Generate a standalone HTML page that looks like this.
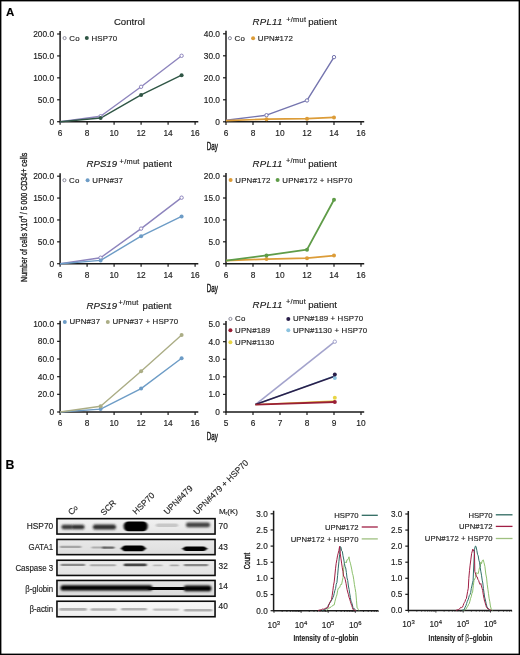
<!DOCTYPE html><html><head><meta charset="utf-8"><style>html,body{margin:0;padding:0;background:#fff;}svg{display:block;filter:blur(0.3px);}text{font-family:"Liberation Sans", sans-serif;stroke:#222;stroke-width:0.15px;}</style></head><body>
<svg width="520" height="655" viewBox="0 0 520 655">
<rect x="0" y="0" width="520" height="655" fill="#fff"/>
<text x="6" y="16" font-size="11.5" font-weight="bold" fill="#000">A</text>
<text x="5.6" y="469" font-size="12.3" font-weight="bold" fill="#000">B</text>
<path d="M60.1 31 V121.7 H198.3" fill="none" stroke="#1a1a1a" stroke-width="1.5"/>
<path d="M57.1 121.7 H60.1" stroke="#1a1a1a" stroke-width="1.2"/>
<text x="54.1" y="124.7" font-size="8.35" text-anchor="end" fill="#222" >0</text>
<path d="M57.1 99.78 H60.1" stroke="#1a1a1a" stroke-width="1.2"/>
<text x="54.1" y="102.78" font-size="8.35" text-anchor="end" fill="#222" >50.0</text>
<path d="M57.1 77.85 H60.1" stroke="#1a1a1a" stroke-width="1.2"/>
<text x="54.1" y="80.85" font-size="8.35" text-anchor="end" fill="#222" >100.0</text>
<path d="M57.1 55.92 H60.1" stroke="#1a1a1a" stroke-width="1.2"/>
<text x="54.1" y="58.92" font-size="8.35" text-anchor="end" fill="#222" >150.0</text>
<path d="M57.1 34 H60.1" stroke="#1a1a1a" stroke-width="1.2"/>
<text x="54.1" y="37" font-size="8.35" text-anchor="end" fill="#222" >200.0</text>
<path d="M60.1 121.7 V124.8" stroke="#1a1a1a" stroke-width="1.2"/>
<text x="60.1" y="135.6" font-size="8.35" text-anchor="middle" fill="#222" >6</text>
<path d="M87.1 121.7 V124.8" stroke="#1a1a1a" stroke-width="1.2"/>
<text x="87.1" y="135.6" font-size="8.35" text-anchor="middle" fill="#222" >8</text>
<path d="M114.1 121.7 V124.8" stroke="#1a1a1a" stroke-width="1.2"/>
<text x="114.1" y="135.6" font-size="8.35" text-anchor="middle" fill="#222" >10</text>
<path d="M141.1 121.7 V124.8" stroke="#1a1a1a" stroke-width="1.2"/>
<text x="141.1" y="135.6" font-size="8.35" text-anchor="middle" fill="#222" >12</text>
<path d="M168.1 121.7 V124.8" stroke="#1a1a1a" stroke-width="1.2"/>
<text x="168.1" y="135.6" font-size="8.35" text-anchor="middle" fill="#222" >14</text>
<path d="M195.1 121.7 V124.8" stroke="#1a1a1a" stroke-width="1.2"/>
<text x="195.1" y="135.6" font-size="8.35" text-anchor="middle" fill="#222" >16</text>
<text x="129.4" y="25" font-size="9.6" text-anchor="middle" fill="#1a1a1a" style="stroke-width:0.15px">Control</text>
<polyline points="60.1,121.7 100.6,116.22 141.1,86.8 181.6,55.79" fill="none" stroke="#8d84bd" stroke-width="1.4" stroke-linejoin="round"/>
<polyline points="60.1,121.7 100.6,118.02 141.1,94.91 181.6,75.22" fill="none" stroke="#2f5645" stroke-width="1.4" stroke-linejoin="round"/>
<circle cx="100.6" cy="116.22" r="1.7" fill="#fff" stroke="#8d84bd" stroke-width="1"/>
<circle cx="141.1" cy="86.8" r="1.7" fill="#fff" stroke="#8d84bd" stroke-width="1"/>
<circle cx="181.6" cy="55.79" r="1.7" fill="#fff" stroke="#8d84bd" stroke-width="1"/>
<circle cx="100.6" cy="118.02" r="2.0" fill="#2f5645"/>
<circle cx="141.1" cy="94.91" r="2.0" fill="#2f5645"/>
<circle cx="181.6" cy="75.22" r="2.0" fill="#2f5645"/>
<circle cx="64.6" cy="38.1" r="1.55" fill="#fff" stroke="#8a8a9a" stroke-width="1"/>
<text x="69.3" y="40.6" font-size="7.9" text-anchor="start" fill="#222" letter-spacing="0.14">Co</text>
<circle cx="86.8" cy="38.1" r="2.0" fill="#2f5645"/>
<text x="91.5" y="40.6" font-size="7.9" text-anchor="start" fill="#222" letter-spacing="0.14">HSP70</text>
<path d="M226 30.8 V121.8 H364.2" fill="none" stroke="#1a1a1a" stroke-width="1.5"/>
<path d="M223 121.8 H226" stroke="#1a1a1a" stroke-width="1.2"/>
<text x="220" y="124.8" font-size="8.35" text-anchor="end" fill="#222" >0</text>
<path d="M223 99.8 H226" stroke="#1a1a1a" stroke-width="1.2"/>
<text x="220" y="102.8" font-size="8.35" text-anchor="end" fill="#222" >10.0</text>
<path d="M223 77.8 H226" stroke="#1a1a1a" stroke-width="1.2"/>
<text x="220" y="80.8" font-size="8.35" text-anchor="end" fill="#222" >20.0</text>
<path d="M223 55.8 H226" stroke="#1a1a1a" stroke-width="1.2"/>
<text x="220" y="58.8" font-size="8.35" text-anchor="end" fill="#222" >30.0</text>
<path d="M223 33.8 H226" stroke="#1a1a1a" stroke-width="1.2"/>
<text x="220" y="36.8" font-size="8.35" text-anchor="end" fill="#222" >40.0</text>
<path d="M226 121.8 V124.9" stroke="#1a1a1a" stroke-width="1.2"/>
<text x="226" y="135.7" font-size="8.35" text-anchor="middle" fill="#222" >6</text>
<path d="M253 121.8 V124.9" stroke="#1a1a1a" stroke-width="1.2"/>
<text x="253" y="135.7" font-size="8.35" text-anchor="middle" fill="#222" >8</text>
<path d="M280 121.8 V124.9" stroke="#1a1a1a" stroke-width="1.2"/>
<text x="280" y="135.7" font-size="8.35" text-anchor="middle" fill="#222" >10</text>
<path d="M307 121.8 V124.9" stroke="#1a1a1a" stroke-width="1.2"/>
<text x="307" y="135.7" font-size="8.35" text-anchor="middle" fill="#222" >12</text>
<path d="M334 121.8 V124.9" stroke="#1a1a1a" stroke-width="1.2"/>
<text x="334" y="135.7" font-size="8.35" text-anchor="middle" fill="#222" >14</text>
<path d="M361 121.8 V124.9" stroke="#1a1a1a" stroke-width="1.2"/>
<text x="361" y="135.7" font-size="8.35" text-anchor="middle" fill="#222" >16</text>
<text x="252.6" y="25.2" font-size="9.6" font-style="italic" fill="#1a1a1a" style="stroke-width:0.15px" letter-spacing="0.25">RPL11</text>
<text x="286.2" y="21.9" font-size="7.4" fill="#1a1a1a" letter-spacing="0.28">+/mut</text>
<text x="308.2" y="25.2" font-size="9.6" fill="#1a1a1a" style="stroke-width:0.15px">patient</text>
<polyline points="226,120.26 266.5,115.2 307,100.46 334,57.12" fill="none" stroke="#7474ae" stroke-width="1.4" stroke-linejoin="round"/>
<polyline points="226,120.7 266.5,119.16 307,118.72 334,117.4" fill="none" stroke="#dc9c38" stroke-width="1.7" stroke-linejoin="round"/>
<circle cx="266.5" cy="115.2" r="1.7" fill="#fff" stroke="#7474ae" stroke-width="1"/>
<circle cx="307" cy="100.46" r="1.7" fill="#fff" stroke="#7474ae" stroke-width="1"/>
<circle cx="334" cy="57.12" r="1.7" fill="#fff" stroke="#7474ae" stroke-width="1"/>
<circle cx="266.5" cy="119.16" r="2.0" fill="#dc9c38"/>
<circle cx="307" cy="118.72" r="2.0" fill="#dc9c38"/>
<circle cx="334" cy="117.4" r="2.0" fill="#dc9c38"/>
<circle cx="229.9" cy="38.2" r="1.55" fill="#fff" stroke="#8a8a9a" stroke-width="1"/>
<text x="234.6" y="40.7" font-size="7.9" text-anchor="start" fill="#222" letter-spacing="0.14">Co</text>
<circle cx="253.1" cy="38.2" r="2.0" fill="#dc9c38"/>
<text x="257.8" y="40.7" font-size="7.9" text-anchor="start" fill="#222" letter-spacing="0.14">UPN#172</text>
<path d="M60.1 173.2 V263.7 H198.3" fill="none" stroke="#1a1a1a" stroke-width="1.5"/>
<path d="M57.1 263.7 H60.1" stroke="#1a1a1a" stroke-width="1.2"/>
<text x="54.1" y="266.7" font-size="8.35" text-anchor="end" fill="#222" >0</text>
<path d="M57.1 241.82 H60.1" stroke="#1a1a1a" stroke-width="1.2"/>
<text x="54.1" y="244.82" font-size="8.35" text-anchor="end" fill="#222" >50.0</text>
<path d="M57.1 219.95 H60.1" stroke="#1a1a1a" stroke-width="1.2"/>
<text x="54.1" y="222.95" font-size="8.35" text-anchor="end" fill="#222" >100.0</text>
<path d="M57.1 198.07 H60.1" stroke="#1a1a1a" stroke-width="1.2"/>
<text x="54.1" y="201.07" font-size="8.35" text-anchor="end" fill="#222" >150.0</text>
<path d="M57.1 176.2 H60.1" stroke="#1a1a1a" stroke-width="1.2"/>
<text x="54.1" y="179.2" font-size="8.35" text-anchor="end" fill="#222" >200.0</text>
<path d="M60.1 263.7 V266.8" stroke="#1a1a1a" stroke-width="1.2"/>
<text x="60.1" y="277.6" font-size="8.35" text-anchor="middle" fill="#222" >6</text>
<path d="M87.1 263.7 V266.8" stroke="#1a1a1a" stroke-width="1.2"/>
<text x="87.1" y="277.6" font-size="8.35" text-anchor="middle" fill="#222" >8</text>
<path d="M114.1 263.7 V266.8" stroke="#1a1a1a" stroke-width="1.2"/>
<text x="114.1" y="277.6" font-size="8.35" text-anchor="middle" fill="#222" >10</text>
<path d="M141.1 263.7 V266.8" stroke="#1a1a1a" stroke-width="1.2"/>
<text x="141.1" y="277.6" font-size="8.35" text-anchor="middle" fill="#222" >12</text>
<path d="M168.1 263.7 V266.8" stroke="#1a1a1a" stroke-width="1.2"/>
<text x="168.1" y="277.6" font-size="8.35" text-anchor="middle" fill="#222" >14</text>
<path d="M195.1 263.7 V266.8" stroke="#1a1a1a" stroke-width="1.2"/>
<text x="195.1" y="277.6" font-size="8.35" text-anchor="middle" fill="#222" >16</text>
<text x="86.6" y="167.3" font-size="9.6" font-style="italic" fill="#1a1a1a" style="stroke-width:0.15px" letter-spacing="0">RPS19</text>
<text x="119.6" y="164" font-size="7.4" fill="#1a1a1a" letter-spacing="0.28">+/mut</text>
<text x="143" y="167.3" font-size="9.6" fill="#1a1a1a" style="stroke-width:0.15px">patient</text>
<polyline points="60.1,263.7 100.6,257.71 141.1,228.61 181.6,197.68" fill="none" stroke="#8d84bd" stroke-width="1.4" stroke-linejoin="round"/>
<polyline points="60.1,263.7 100.6,260.42 141.1,236.18 181.6,216.49" fill="none" stroke="#6d9cc6" stroke-width="1.4" stroke-linejoin="round"/>
<circle cx="100.6" cy="257.71" r="1.7" fill="#fff" stroke="#8d84bd" stroke-width="1"/>
<circle cx="141.1" cy="228.61" r="1.7" fill="#fff" stroke="#8d84bd" stroke-width="1"/>
<circle cx="181.6" cy="197.68" r="1.7" fill="#fff" stroke="#8d84bd" stroke-width="1"/>
<circle cx="100.6" cy="260.42" r="2.0" fill="#6d9cc6"/>
<circle cx="141.1" cy="236.18" r="2.0" fill="#6d9cc6"/>
<circle cx="181.6" cy="216.49" r="2.0" fill="#6d9cc6"/>
<circle cx="64.4" cy="180.2" r="1.55" fill="#fff" stroke="#8a8a9a" stroke-width="1"/>
<text x="69.1" y="182.7" font-size="7.9" text-anchor="start" fill="#222" letter-spacing="0.14">Co</text>
<circle cx="87.6" cy="180.2" r="2.0" fill="#6d9cc6"/>
<text x="92.3" y="182.7" font-size="7.9" text-anchor="start" fill="#222" letter-spacing="0.14">UPN#37</text>
<path d="M226 173.1 V263.7 H364.2" fill="none" stroke="#1a1a1a" stroke-width="1.5"/>
<path d="M223 263.7 H226" stroke="#1a1a1a" stroke-width="1.2"/>
<text x="220" y="266.7" font-size="8.35" text-anchor="end" fill="#222" >0</text>
<path d="M223 241.8 H226" stroke="#1a1a1a" stroke-width="1.2"/>
<text x="220" y="244.8" font-size="8.35" text-anchor="end" fill="#222" >5.0</text>
<path d="M223 219.9 H226" stroke="#1a1a1a" stroke-width="1.2"/>
<text x="220" y="222.9" font-size="8.35" text-anchor="end" fill="#222" >10.0</text>
<path d="M223 198 H226" stroke="#1a1a1a" stroke-width="1.2"/>
<text x="220" y="201" font-size="8.35" text-anchor="end" fill="#222" >15.0</text>
<path d="M223 176.1 H226" stroke="#1a1a1a" stroke-width="1.2"/>
<text x="220" y="179.1" font-size="8.35" text-anchor="end" fill="#222" >20.0</text>
<path d="M226 263.7 V266.8" stroke="#1a1a1a" stroke-width="1.2"/>
<text x="226" y="277.6" font-size="8.35" text-anchor="middle" fill="#222" >6</text>
<path d="M253 263.7 V266.8" stroke="#1a1a1a" stroke-width="1.2"/>
<text x="253" y="277.6" font-size="8.35" text-anchor="middle" fill="#222" >8</text>
<path d="M280 263.7 V266.8" stroke="#1a1a1a" stroke-width="1.2"/>
<text x="280" y="277.6" font-size="8.35" text-anchor="middle" fill="#222" >10</text>
<path d="M307 263.7 V266.8" stroke="#1a1a1a" stroke-width="1.2"/>
<text x="307" y="277.6" font-size="8.35" text-anchor="middle" fill="#222" >12</text>
<path d="M334 263.7 V266.8" stroke="#1a1a1a" stroke-width="1.2"/>
<text x="334" y="277.6" font-size="8.35" text-anchor="middle" fill="#222" >14</text>
<path d="M361 263.7 V266.8" stroke="#1a1a1a" stroke-width="1.2"/>
<text x="361" y="277.6" font-size="8.35" text-anchor="middle" fill="#222" >16</text>
<text x="252.6" y="166.75" font-size="9.6" font-style="italic" fill="#1a1a1a" style="stroke-width:0.15px" letter-spacing="0.25">RPL11</text>
<text x="285.9" y="163.45" font-size="7.4" fill="#1a1a1a" letter-spacing="0.28">+/mut</text>
<text x="308.2" y="166.75" font-size="9.6" fill="#1a1a1a" style="stroke-width:0.15px">patient</text>
<polyline points="226,260.63 266.5,259.1 307,258.22 334,255.6" fill="none" stroke="#dc9c38" stroke-width="1.7" stroke-linejoin="round"/>
<polyline points="226,260.63 266.5,255.38 307,249.68 334,199.75" fill="none" stroke="#5f9c48" stroke-width="1.8" stroke-linejoin="round"/>
<circle cx="266.5" cy="259.1" r="2.0" fill="#dc9c38"/>
<circle cx="307" cy="258.22" r="2.0" fill="#dc9c38"/>
<circle cx="334" cy="255.6" r="2.0" fill="#dc9c38"/>
<circle cx="266.5" cy="255.38" r="2.0" fill="#5f9c48"/>
<circle cx="307" cy="249.68" r="2.0" fill="#5f9c48"/>
<circle cx="334" cy="199.75" r="2.0" fill="#5f9c48"/>
<circle cx="230.6" cy="180" r="2.0" fill="#dc9c38"/>
<text x="235.3" y="182.5" font-size="7.9" text-anchor="start" fill="#222" letter-spacing="0.14">UPN#172</text>
<circle cx="277.6" cy="180" r="2.0" fill="#5f9c48"/>
<text x="282.3" y="182.5" font-size="7.9" text-anchor="start" fill="#222" letter-spacing="0.14">UPN#172 + HSP70</text>
<path d="M60.1 320.7 V412 H198.3" fill="none" stroke="#1a1a1a" stroke-width="1.5"/>
<path d="M57.1 412 H60.1" stroke="#1a1a1a" stroke-width="1.2"/>
<text x="54.1" y="415" font-size="8.35" text-anchor="end" fill="#222" >0</text>
<path d="M57.1 394.34 H60.1" stroke="#1a1a1a" stroke-width="1.2"/>
<text x="54.1" y="397.34" font-size="8.35" text-anchor="end" fill="#222" >20.0</text>
<path d="M57.1 376.68 H60.1" stroke="#1a1a1a" stroke-width="1.2"/>
<text x="54.1" y="379.68" font-size="8.35" text-anchor="end" fill="#222" >40.0</text>
<path d="M57.1 359.02 H60.1" stroke="#1a1a1a" stroke-width="1.2"/>
<text x="54.1" y="362.02" font-size="8.35" text-anchor="end" fill="#222" >60.0</text>
<path d="M57.1 341.36 H60.1" stroke="#1a1a1a" stroke-width="1.2"/>
<text x="54.1" y="344.36" font-size="8.35" text-anchor="end" fill="#222" >80.0</text>
<path d="M57.1 323.7 H60.1" stroke="#1a1a1a" stroke-width="1.2"/>
<text x="54.1" y="326.7" font-size="8.35" text-anchor="end" fill="#222" >100.0</text>
<path d="M60.1 412 V415.1" stroke="#1a1a1a" stroke-width="1.2"/>
<text x="60.1" y="425.9" font-size="8.35" text-anchor="middle" fill="#222" >6</text>
<path d="M87.1 412 V415.1" stroke="#1a1a1a" stroke-width="1.2"/>
<text x="87.1" y="425.9" font-size="8.35" text-anchor="middle" fill="#222" >8</text>
<path d="M114.1 412 V415.1" stroke="#1a1a1a" stroke-width="1.2"/>
<text x="114.1" y="425.9" font-size="8.35" text-anchor="middle" fill="#222" >10</text>
<path d="M141.1 412 V415.1" stroke="#1a1a1a" stroke-width="1.2"/>
<text x="141.1" y="425.9" font-size="8.35" text-anchor="middle" fill="#222" >12</text>
<path d="M168.1 412 V415.1" stroke="#1a1a1a" stroke-width="1.2"/>
<text x="168.1" y="425.9" font-size="8.35" text-anchor="middle" fill="#222" >14</text>
<path d="M195.1 412 V415.1" stroke="#1a1a1a" stroke-width="1.2"/>
<text x="195.1" y="425.9" font-size="8.35" text-anchor="middle" fill="#222" >16</text>
<text x="86.6" y="308.75" font-size="9.6" font-style="italic" fill="#1a1a1a" style="stroke-width:0.15px" letter-spacing="0">RPS19</text>
<text x="118.6" y="305.45" font-size="7.4" fill="#1a1a1a" letter-spacing="0.28">+/mut</text>
<text x="142.6" y="308.75" font-size="9.6" fill="#1a1a1a" style="stroke-width:0.15px">patient</text>
<polyline points="60.1,412 100.6,409.09 141.1,388.6 181.6,358.23" fill="none" stroke="#6d9cc6" stroke-width="1.4" stroke-linejoin="round"/>
<polyline points="60.1,412 100.6,406.26 141.1,371.21 181.6,335" fill="none" stroke="#abad85" stroke-width="1.4" stroke-linejoin="round"/>
<circle cx="100.6" cy="409.09" r="2.0" fill="#6d9cc6"/>
<circle cx="141.1" cy="388.6" r="2.0" fill="#6d9cc6"/>
<circle cx="181.6" cy="358.23" r="2.0" fill="#6d9cc6"/>
<circle cx="100.6" cy="406.26" r="2.0" fill="#abad85"/>
<circle cx="141.1" cy="371.21" r="2.0" fill="#abad85"/>
<circle cx="181.6" cy="335" r="2.0" fill="#abad85"/>
<circle cx="64.8" cy="321.9" r="2.0" fill="#6d9cc6"/>
<text x="69.5" y="324.4" font-size="7.9" text-anchor="start" fill="#222" letter-spacing="0.14">UPN#37</text>
<circle cx="107.8" cy="321.9" r="2.0" fill="#abad85"/>
<text x="112.5" y="324.4" font-size="7.9" text-anchor="start" fill="#222" letter-spacing="0.14">UPN#37 + HSP70</text>
<path d="M226 321.1 V412 H364.2" fill="none" stroke="#1a1a1a" stroke-width="1.5"/>
<path d="M223 412 H226" stroke="#1a1a1a" stroke-width="1.2"/>
<text x="220" y="415" font-size="8.35" text-anchor="end" fill="#222" >0</text>
<path d="M223 394.42 H226" stroke="#1a1a1a" stroke-width="1.2"/>
<text x="220" y="397.42" font-size="8.35" text-anchor="end" fill="#222" >1.0</text>
<path d="M223 376.84 H226" stroke="#1a1a1a" stroke-width="1.2"/>
<text x="220" y="379.84" font-size="8.35" text-anchor="end" fill="#222" >1.0</text>
<path d="M223 359.26 H226" stroke="#1a1a1a" stroke-width="1.2"/>
<text x="220" y="362.26" font-size="8.35" text-anchor="end" fill="#222" >3.0</text>
<path d="M223 341.68 H226" stroke="#1a1a1a" stroke-width="1.2"/>
<text x="220" y="344.68" font-size="8.35" text-anchor="end" fill="#222" >4.0</text>
<path d="M223 324.1 H226" stroke="#1a1a1a" stroke-width="1.2"/>
<text x="220" y="327.1" font-size="8.35" text-anchor="end" fill="#222" >5.0</text>
<path d="M226 412 V415.1" stroke="#1a1a1a" stroke-width="1.2"/>
<text x="226" y="425.9" font-size="8.35" text-anchor="middle" fill="#222" >5</text>
<path d="M253 412 V415.1" stroke="#1a1a1a" stroke-width="1.2"/>
<text x="253" y="425.9" font-size="8.35" text-anchor="middle" fill="#222" >6</text>
<path d="M280 412 V415.1" stroke="#1a1a1a" stroke-width="1.2"/>
<text x="280" y="425.9" font-size="8.35" text-anchor="middle" fill="#222" >7</text>
<path d="M307 412 V415.1" stroke="#1a1a1a" stroke-width="1.2"/>
<text x="307" y="425.9" font-size="8.35" text-anchor="middle" fill="#222" >8</text>
<path d="M334 412 V415.1" stroke="#1a1a1a" stroke-width="1.2"/>
<text x="334" y="425.9" font-size="8.35" text-anchor="middle" fill="#222" >9</text>
<path d="M361 412 V415.1" stroke="#1a1a1a" stroke-width="1.2"/>
<text x="361" y="425.9" font-size="8.35" text-anchor="middle" fill="#222" >10</text>
<text x="252.6" y="307.75" font-size="9.6" font-style="italic" fill="#1a1a1a" style="stroke-width:0.15px" letter-spacing="0.25">RPL11</text>
<text x="286" y="304.45" font-size="7.4" fill="#1a1a1a" letter-spacing="0.28">+/mut</text>
<text x="308.2" y="307.75" font-size="9.6" fill="#1a1a1a" style="stroke-width:0.15px">patient</text>
<polyline points="255.43,404.62 334.81,341.68" fill="none" stroke="#a3a3cc" stroke-width="1.6" stroke-linejoin="round"/>
<polyline points="255.43,404.62 334.81,375.96" fill="none" stroke="#8cc3df" stroke-width="1.4" stroke-linejoin="round"/>
<polyline points="255.43,404.62 334.81,400.92" fill="none" stroke="#e8d545" stroke-width="1.4" stroke-linejoin="round"/>
<polyline points="255.43,404.62 334.81,376.31" fill="none" stroke="#2a1f4a" stroke-width="1.6" stroke-linejoin="round"/>
<polyline points="255.43,404.62 334.81,401.98" fill="none" stroke="#9a1f35" stroke-width="1.8" stroke-linejoin="round"/>
<circle cx="334.81" cy="341.68" r="1.7" fill="#fff" stroke="#a3a3cc" stroke-width="1"/>
<circle cx="334.81" cy="377.89" r="2.0" fill="#8cc3df"/>
<circle cx="334.81" cy="397.76" r="2.0" fill="#e8d545"/>
<circle cx="334.81" cy="374.55" r="2.0" fill="#2a1f4a"/>
<circle cx="334.81" cy="401.98" r="2.0" fill="#9a1f35"/>
<circle cx="230.4" cy="318.9" r="1.55" fill="#fff" stroke="#8a8a9a" stroke-width="1"/>
<text x="235.1" y="321.4" font-size="7.9" text-anchor="start" fill="#222" letter-spacing="0.14">Co</text>
<circle cx="230.4" cy="330.3" r="2.0" fill="#9a1f35"/>
<text x="235.1" y="332.8" font-size="7.9" text-anchor="start" fill="#222" letter-spacing="0.14">UPN#189</text>
<circle cx="230.4" cy="342.3" r="2.0" fill="#e8d545"/>
<text x="235.1" y="344.8" font-size="7.9" text-anchor="start" fill="#222" letter-spacing="0.14">UPN#1130</text>
<circle cx="288.3" cy="318.9" r="2.0" fill="#2a1f4a"/>
<text x="293" y="321.4" font-size="7.9" text-anchor="start" fill="#222" letter-spacing="0.14">UPN#189 + HSP70</text>
<circle cx="288.3" cy="330.3" r="2.0" fill="#8cc3df"/>
<text x="293" y="332.8" font-size="7.9" text-anchor="start" fill="#222" letter-spacing="0.14">UPN#1130 + HSP70</text>
<text transform="translate(206.7 150.0) scale(0.615 1)" font-size="10.2" fill="#222" style="stroke-width:0.45px">Day</text>
<text transform="translate(206.7 292.0) scale(0.615 1)" font-size="10.2" fill="#222" style="stroke-width:0.45px">Day</text>
<text transform="translate(206.7 440.3) scale(0.615 1)" font-size="10.2" fill="#222" style="stroke-width:0.45px">Day</text>
<text transform="translate(26.6 217.3) rotate(-90) scale(0.733 1)" font-size="9.6" text-anchor="middle" fill="#222" style="stroke-width:0.35px">Number of cells X10<tspan font-size="6" dy="-3.6">4</tspan><tspan dy="3.6"> / 5 000 CD34+ cells</tspan></text>
<defs><filter id="bl1" x="-20%" y="-100%" width="140%" height="300%"><feGaussianBlur stdDeviation="1.1 0.8"/></filter><filter id="bl2" x="-20%" y="-100%" width="140%" height="300%"><feGaussianBlur stdDeviation="1.3 0.6"/></filter><filter id="bl3" x="-20%" y="-100%" width="140%" height="300%"><feGaussianBlur stdDeviation="0.8 0.6"/></filter><linearGradient id="bg" x1="0" y1="0" x2="0" y2="1"><stop offset="0" stop-color="#f3f3f3"/><stop offset="1" stop-color="#e3e3e3"/></linearGradient></defs>
<linearGradient id="rg0" x1="0" y1="0" x2="0" y2="1"><stop offset="0" stop-color="#f1f1f1"/><stop offset="1" stop-color="#e6e6e6"/></linearGradient>
<rect x="56.95" y="518.65" width="158.10" height="15.40" fill="url(#rg0)" stroke="#0d0d0d" stroke-width="1.6"/>
<linearGradient id="rg1" x1="0" y1="0" x2="0" y2="1"><stop offset="0" stop-color="#e8e8e8"/><stop offset="1" stop-color="#dedede"/></linearGradient>
<rect x="56.95" y="539.45" width="158.10" height="15.20" fill="url(#rg1)" stroke="#0d0d0d" stroke-width="1.6"/>
<linearGradient id="rg2" x1="0" y1="0" x2="0" y2="1"><stop offset="0" stop-color="#ececec"/><stop offset="1" stop-color="#e2e2e2"/></linearGradient>
<rect x="56.95" y="560.25" width="158.10" height="15.20" fill="url(#rg2)" stroke="#0d0d0d" stroke-width="1.6"/>
<linearGradient id="rg3" x1="0" y1="0" x2="0" y2="1"><stop offset="0" stop-color="#e4e4e4"/><stop offset="1" stop-color="#dadada"/></linearGradient>
<rect x="56.95" y="580.45" width="158.10" height="15.80" fill="url(#rg3)" stroke="#0d0d0d" stroke-width="1.6"/>
<linearGradient id="rg4" x1="0" y1="0" x2="0" y2="1"><stop offset="0" stop-color="#f8f8f8"/><stop offset="1" stop-color="#efefef"/></linearGradient>
<rect x="56.95" y="601.25" width="158.10" height="15.50" fill="url(#rg4)" stroke="#0d0d0d" stroke-width="1.6"/>
<rect x="61.40" y="524.80" width="11.40" height="4.40" rx="2.20" fill="#2a2a2a" fill-opacity="0.95" filter="url(#bl1)"/>
<rect x="71.50" y="524.70" width="13.10" height="4.60" rx="2.30" fill="#222" fill-opacity="0.95" filter="url(#bl1)"/>
<rect x="92.90" y="524.40" width="23.10" height="5.00" rx="2.50" fill="#222" fill-opacity="0.95" filter="url(#bl1)"/>
<rect x="123.70" y="521.40" width="23.90" height="9.80" rx="4.5" ry="4.2" fill="#000" fill-opacity="1.0" filter="url(#bl3)"/>
<rect x="155.80" y="523.50" width="22.30" height="3.60" rx="1.80" fill="#c4c4c4" fill-opacity="0.9" filter="url(#bl2)"/>
<rect x="185.90" y="522.60" width="24.20" height="4.60" rx="2.30" fill="#2c2c2c" fill-opacity="0.9" filter="url(#bl1)"/>
<rect x="59.80" y="545.80" width="21.60" height="2.20" rx="1.10" fill="#9a9a9a" fill-opacity="0.85" filter="url(#bl2)"/>
<rect x="91.40" y="546.40" width="14.60" height="2.00" rx="1.00" fill="#a0a0a0" fill-opacity="0.8" filter="url(#bl2)"/>
<rect x="102.00" y="546.40" width="12.50" height="2.40" rx="1.20" fill="#555" fill-opacity="0.85" filter="url(#bl2)"/>
<g filter="url(#bl3)" fill="#000" fill-opacity="1.0"><ellipse cx="133.45" cy="548.40" rx="12.65" ry="2.38"/><rect x="122.32" y="545.60" width="22.26" height="5.60" rx="2.80"/></g>
<g filter="url(#bl3)" fill="#000" fill-opacity="1.0"><ellipse cx="194.80" cy="548.80" rx="12.80" ry="1.87"/><rect x="183.54" y="546.60" width="22.53" height="4.40" rx="2.20"/></g>
<rect x="60.60" y="563.80" width="24.60" height="2.20" rx="1.10" fill="#7a7a7a" fill-opacity="0.85" filter="url(#bl2)"/>
<rect x="89.80" y="564.20" width="26.20" height="2.00" rx="1.00" fill="#999" fill-opacity="0.8" filter="url(#bl2)"/>
<rect x="123.70" y="563.50" width="23.10" height="2.80" rx="1.40" fill="#333" fill-opacity="0.9" filter="url(#bl2)"/>
<rect x="153.00" y="564.50" width="9.50" height="1.80" rx="0.90" fill="#aaa" fill-opacity="0.8" filter="url(#bl2)"/>
<rect x="169.80" y="564.50" width="9.20" height="1.80" rx="0.90" fill="#999" fill-opacity="0.8" filter="url(#bl2)"/>
<rect x="183.70" y="564.00" width="24.60" height="2.20" rx="1.10" fill="#777" fill-opacity="0.85" filter="url(#bl2)"/>
<rect x="60.50" y="585.20" width="92.00" height="5.40" rx="2.70" fill="#000" fill-opacity="1.0" filter="url(#bl1)"/>
<rect x="148.00" y="586.90" width="38.00" height="3.20" rx="1.60" fill="#000" fill-opacity="1.0" filter="url(#bl3)"/>
<rect x="183.70" y="585.60" width="27.70" height="5.60" rx="2.80" fill="#000" fill-opacity="1.0" filter="url(#bl1)"/>
<rect x="59.20" y="608.10" width="27.70" height="2.60" rx="1.30" fill="#a8a8a8" fill-opacity="0.9" filter="url(#bl2)"/>
<rect x="90.50" y="608.20" width="26.00" height="2.60" rx="1.30" fill="#a8a8a8" fill-opacity="0.9" filter="url(#bl2)"/>
<rect x="121.00" y="608.00" width="26.00" height="2.40" rx="1.20" fill="#ababab" fill-opacity="0.9" filter="url(#bl2)"/>
<rect x="153.00" y="608.50" width="26.00" height="2.20" rx="1.10" fill="#b4b4b4" fill-opacity="0.85" filter="url(#bl2)"/>
<rect x="184.00" y="608.90" width="28.30" height="2.60" rx="1.30" fill="#a8a8a8" fill-opacity="0.9" filter="url(#bl2)"/>
<text x="53.2" y="529.4" font-size="8.3" text-anchor="end" textLength="26.4" lengthAdjust="spacingAndGlyphs" fill="#222">HSP70</text>
<text x="53.2" y="550.4" font-size="8.3" text-anchor="end" textLength="24.6" lengthAdjust="spacingAndGlyphs" fill="#222">GATA1</text>
<text x="53.2" y="571.2" font-size="8.3" text-anchor="end" textLength="37.8" lengthAdjust="spacingAndGlyphs" fill="#222">Caspase 3</text>
<text x="53.2" y="592.0" font-size="8.3" text-anchor="end" textLength="28.0" lengthAdjust="spacingAndGlyphs" fill="#222">&#946;-globin</text>
<text x="53.2" y="611.8" font-size="8.3" text-anchor="end" textLength="23.8" lengthAdjust="spacingAndGlyphs" fill="#222">&#946;-actin</text>
<text x="218.6" y="529.0" font-size="8.3" fill="#222">70</text>
<text x="218.6" y="549.6" font-size="8.3" fill="#222">43</text>
<text x="218.6" y="569.0" font-size="8.3" fill="#222">32</text>
<text x="218.6" y="589.2" font-size="8.3" fill="#222">14</text>
<text x="218.6" y="608.8" font-size="8.3" fill="#222">40</text>
<text transform="translate(71.6 515.6) rotate(-45)" font-size="8.5" fill="#222">C<tspan font-size="7" dy="-0.5" dx="-0.2">o</tspan></text>
<text transform="translate(104.0 516.0) rotate(-45)" font-size="8.5" fill="#222">SCR</text>
<text transform="translate(136.1 515.0) rotate(-45)" font-size="8.5" fill="#222">HSP70</text>
<text transform="translate(167.2 515.0) rotate(-45)" font-size="8.5" fill="#222">UPN#479</text>
<text transform="translate(197.0 515.3) rotate(-45)" font-size="8.5" fill="#222">UPN#479 + HSP70</text>
<text x="218.9" y="513.6" font-size="8" fill="#222">M<tspan font-size="5.2" dy="1.6">r</tspan><tspan dy="-1.6">(K)</tspan></text>
<path d="M273.6 510.80 V610.7 H378.4" fill="none" stroke="#1a1a1a" stroke-width="1.5"/>
<path d="M270.6 610.70 H273.6" stroke="#1a1a1a" stroke-width="1.2"/>
<text x="267.70" y="613.60" font-size="8.2" text-anchor="end" fill="#222">0.0</text>
<path d="M270.6 594.55 H273.6" stroke="#1a1a1a" stroke-width="1.2"/>
<text x="267.70" y="597.45" font-size="8.2" text-anchor="end" fill="#222">0.5</text>
<path d="M270.6 578.40 H273.6" stroke="#1a1a1a" stroke-width="1.2"/>
<text x="267.70" y="581.30" font-size="8.2" text-anchor="end" fill="#222">1.0</text>
<path d="M270.6 562.25 H273.6" stroke="#1a1a1a" stroke-width="1.2"/>
<text x="267.70" y="565.15" font-size="8.2" text-anchor="end" fill="#222">1.5</text>
<path d="M270.6 546.10 H273.6" stroke="#1a1a1a" stroke-width="1.2"/>
<text x="267.70" y="549.00" font-size="8.2" text-anchor="end" fill="#222">2.0</text>
<path d="M270.6 529.95 H273.6" stroke="#1a1a1a" stroke-width="1.2"/>
<text x="267.70" y="532.85" font-size="8.2" text-anchor="end" fill="#222">2.5</text>
<path d="M270.6 513.80 H273.6" stroke="#1a1a1a" stroke-width="1.2"/>
<text x="267.70" y="516.70" font-size="8.2" text-anchor="end" fill="#222">3.0</text>
<path d="M274.00 610.7 V612.9000000000001" stroke="#1a1a1a" stroke-width="0.8"/>
<path d="M282.16 610.7 V611.9000000000001" stroke="#1a1a1a" stroke-width="0.8"/>
<path d="M286.93 610.7 V611.9000000000001" stroke="#1a1a1a" stroke-width="0.8"/>
<path d="M290.32 610.7 V611.9000000000001" stroke="#1a1a1a" stroke-width="0.8"/>
<path d="M292.94 610.7 V611.9000000000001" stroke="#1a1a1a" stroke-width="0.8"/>
<path d="M295.09 610.7 V611.9000000000001" stroke="#1a1a1a" stroke-width="0.8"/>
<path d="M296.90 610.7 V611.9000000000001" stroke="#1a1a1a" stroke-width="0.8"/>
<path d="M298.47 610.7 V611.9000000000001" stroke="#1a1a1a" stroke-width="0.8"/>
<path d="M299.86 610.7 V611.9000000000001" stroke="#1a1a1a" stroke-width="0.8"/>
<path d="M301.10 610.7 V612.9000000000001" stroke="#1a1a1a" stroke-width="0.8"/>
<path d="M309.26 610.7 V611.9000000000001" stroke="#1a1a1a" stroke-width="0.8"/>
<path d="M314.03 610.7 V611.9000000000001" stroke="#1a1a1a" stroke-width="0.8"/>
<path d="M317.42 610.7 V611.9000000000001" stroke="#1a1a1a" stroke-width="0.8"/>
<path d="M320.04 610.7 V611.9000000000001" stroke="#1a1a1a" stroke-width="0.8"/>
<path d="M322.19 610.7 V611.9000000000001" stroke="#1a1a1a" stroke-width="0.8"/>
<path d="M324.00 610.7 V611.9000000000001" stroke="#1a1a1a" stroke-width="0.8"/>
<path d="M325.57 610.7 V611.9000000000001" stroke="#1a1a1a" stroke-width="0.8"/>
<path d="M326.96 610.7 V611.9000000000001" stroke="#1a1a1a" stroke-width="0.8"/>
<path d="M328.20 610.7 V612.9000000000001" stroke="#1a1a1a" stroke-width="0.8"/>
<path d="M336.36 610.7 V611.9000000000001" stroke="#1a1a1a" stroke-width="0.8"/>
<path d="M341.13 610.7 V611.9000000000001" stroke="#1a1a1a" stroke-width="0.8"/>
<path d="M344.52 610.7 V611.9000000000001" stroke="#1a1a1a" stroke-width="0.8"/>
<path d="M347.14 610.7 V611.9000000000001" stroke="#1a1a1a" stroke-width="0.8"/>
<path d="M349.29 610.7 V611.9000000000001" stroke="#1a1a1a" stroke-width="0.8"/>
<path d="M351.10 610.7 V611.9000000000001" stroke="#1a1a1a" stroke-width="0.8"/>
<path d="M352.67 610.7 V611.9000000000001" stroke="#1a1a1a" stroke-width="0.8"/>
<path d="M354.06 610.7 V611.9000000000001" stroke="#1a1a1a" stroke-width="0.8"/>
<path d="M355.30 610.7 V612.9000000000001" stroke="#1a1a1a" stroke-width="0.8"/>
<path d="M363.46 610.7 V611.9000000000001" stroke="#1a1a1a" stroke-width="0.8"/>
<path d="M368.23 610.7 V611.9000000000001" stroke="#1a1a1a" stroke-width="0.8"/>
<path d="M371.62 610.7 V611.9000000000001" stroke="#1a1a1a" stroke-width="0.8"/>
<path d="M374.24 610.7 V611.9000000000001" stroke="#1a1a1a" stroke-width="0.8"/>
<path d="M376.39 610.7 V611.9000000000001" stroke="#1a1a1a" stroke-width="0.8"/>
<path d="M378.20 610.7 V611.9000000000001" stroke="#1a1a1a" stroke-width="0.8"/>
<text x="267.60" y="627.50" font-size="8.3" fill="#222">10<tspan font-size="5.9" dy="-2.9">3</tspan></text>
<text x="294.70" y="627.50" font-size="8.3" fill="#222">10<tspan font-size="5.9" dy="-2.9">4</tspan></text>
<text x="321.80" y="627.50" font-size="8.3" fill="#222">10<tspan font-size="5.9" dy="-2.9">5</tspan></text>
<text x="348.90" y="627.50" font-size="8.3" fill="#222">10<tspan font-size="5.9" dy="-2.9">6</tspan></text>
<text x="358.50" y="518.00" font-size="7.7" text-anchor="end" textLength="24.2" lengthAdjust="spacing" fill="#222">HSP70</text>
<path d="M361.7 515.3 H377.8" stroke="#2f6a60" stroke-width="1.3"/>
<text x="358.50" y="529.70" font-size="7.7" text-anchor="end" textLength="33.6" lengthAdjust="spacing" fill="#222">UPN#172</text>
<path d="M361.7 527.0 H377.8" stroke="#a01f45" stroke-width="1.3"/>
<text x="358.50" y="541.60" font-size="7.7" text-anchor="end" textLength="67.8" lengthAdjust="spacing" fill="#222">UPN#172 + HSP70</text>
<path d="M361.7 538.9 H377.8" stroke="#9fc080" stroke-width="1.3"/>
<polyline points="326.0,610.5 326.6,610.1 327.3,609.7 327.9,609.2 328.5,608.6 329.2,608.0 329.8,608.1 330.4,607.0 331.0,607.2 331.7,606.5 332.3,605.7 332.9,605.9 333.6,604.8 334.2,604.9 334.9,601.7 335.6,598.9 336.2,596.8 336.9,594.9 337.6,590.7 338.3,588.2 339.0,588.0 339.6,587.7 340.3,585.6 341.0,584.1 341.6,584.5 342.3,580.9 343.0,577.4 343.6,569.8 344.3,563.5 345.0,562.5 345.6,562.2 346.3,562.9 347.0,559.7 347.6,559.8 348.3,558.8 349.0,556.8 349.7,561.1 350.4,563.2 351.0,565.9 351.7,569.1 352.4,573.3 353.0,575.2 353.7,579.2 354.4,584.4 355.1,588.4 355.8,592.5 356.5,600.8 357.1,607.9 357.7,608.3 358.4,609.6 359.0,610.5" fill="none" stroke="#8cc06c" stroke-width="1.0" stroke-linejoin="miter"/>
<polyline points="322.0,610.5 322.7,610.2 323.3,610.0 324.0,609.8 324.7,609.5 325.3,609.2 326.0,609.1 326.6,608.1 327.3,607.5 327.9,606.4 328.5,604.8 329.1,604.8 329.8,602.6 330.4,602.1 331.0,601.6 331.6,599.7 332.3,599.3 332.9,597.5 333.6,595.9 334.2,593.4 334.9,590.4 335.6,588.4 336.2,584.3 336.9,582.6 337.6,575.7 338.2,568.9 338.9,561.8 339.6,554.6 340.3,546.5 341.0,547.5 341.6,550.7 342.3,551.3 343.0,555.8 343.7,559.0 344.4,563.5 345.0,566.3 345.7,567.9 346.4,572.6 347.0,577.9 347.7,580.4 348.4,586.0 349.1,589.4 349.7,593.5 350.4,597.5 351.0,601.1 351.7,602.5 352.4,605.0 353.0,607.6 353.6,608.7 354.2,608.4 354.8,609.4 355.4,609.9 356.0,610.5" fill="none" stroke="#2f6f68" stroke-width="1.0" stroke-linejoin="miter"/>
<polyline points="318.0,610.5 318.6,610.3 319.3,610.1 319.9,609.9 320.5,609.8 321.2,609.6 321.8,609.4 322.4,609.1 323.1,609.1 323.7,609.2 324.3,609.0 325.0,608.9 325.6,608.0 326.2,608.0 326.9,607.7 327.5,608.2 328.2,606.9 328.8,604.5 329.5,603.2 330.2,601.9 330.8,600.5 331.5,599.6 332.2,595.4 332.9,590.3 333.5,585.3 334.2,581.9 334.9,575.0 335.5,568.8 336.2,563.3 336.9,559.5 337.5,555.9 338.2,553.2 338.9,550.4 339.6,546.4 340.3,553.8 340.9,558.1 341.6,563.1 342.3,567.8 342.9,571.4 343.6,576.4 344.5,576.9 345.3,579.8 346.1,583.7 347.0,589.2 347.7,592.0 348.4,594.4 349.0,597.2 349.7,599.1 350.4,601.5 351.0,603.6 351.7,605.4 352.4,607.5 353.0,609.5 353.6,609.7 354.2,609.9 354.8,610.1 355.4,610.3 356.0,610.5" fill="none" stroke="#a01f45" stroke-width="1.0" stroke-linejoin="miter"/>
<text x="293.4" y="641.2" font-size="9" font-weight="bold" textLength="65" lengthAdjust="spacingAndGlyphs" fill="#2a2a2a">Intensity of <tspan font-family="Liberation Serif" font-style="italic" font-weight="normal" font-size="10">&#945;</tspan>&#8211;globin</text>
<path d="M408.3 511.00 V610.4 H512.0" fill="none" stroke="#1a1a1a" stroke-width="1.5"/>
<path d="M405.3 610.40 H408.3" stroke="#1a1a1a" stroke-width="1.2"/>
<text x="402.40" y="613.30" font-size="8.2" text-anchor="end" fill="#222">0.0</text>
<path d="M405.3 594.33 H408.3" stroke="#1a1a1a" stroke-width="1.2"/>
<text x="402.40" y="597.23" font-size="8.2" text-anchor="end" fill="#222">0.5</text>
<path d="M405.3 578.27 H408.3" stroke="#1a1a1a" stroke-width="1.2"/>
<text x="402.40" y="581.17" font-size="8.2" text-anchor="end" fill="#222">1.0</text>
<path d="M405.3 562.20 H408.3" stroke="#1a1a1a" stroke-width="1.2"/>
<text x="402.40" y="565.10" font-size="8.2" text-anchor="end" fill="#222">1.5</text>
<path d="M405.3 546.13 H408.3" stroke="#1a1a1a" stroke-width="1.2"/>
<text x="402.40" y="549.03" font-size="8.2" text-anchor="end" fill="#222">2.0</text>
<path d="M405.3 530.07 H408.3" stroke="#1a1a1a" stroke-width="1.2"/>
<text x="402.40" y="532.97" font-size="8.2" text-anchor="end" fill="#222">2.5</text>
<path d="M405.3 514.00 H408.3" stroke="#1a1a1a" stroke-width="1.2"/>
<text x="402.40" y="516.90" font-size="8.2" text-anchor="end" fill="#222">3.0</text>
<path d="M408.60 610.4 V612.6" stroke="#1a1a1a" stroke-width="0.8"/>
<path d="M416.82 610.4 V611.6" stroke="#1a1a1a" stroke-width="0.8"/>
<path d="M421.63 610.4 V611.6" stroke="#1a1a1a" stroke-width="0.8"/>
<path d="M425.04 610.4 V611.6" stroke="#1a1a1a" stroke-width="0.8"/>
<path d="M427.68 610.4 V611.6" stroke="#1a1a1a" stroke-width="0.8"/>
<path d="M429.84 610.4 V611.6" stroke="#1a1a1a" stroke-width="0.8"/>
<path d="M431.67 610.4 V611.6" stroke="#1a1a1a" stroke-width="0.8"/>
<path d="M433.25 610.4 V611.6" stroke="#1a1a1a" stroke-width="0.8"/>
<path d="M434.65 610.4 V611.6" stroke="#1a1a1a" stroke-width="0.8"/>
<path d="M435.90 610.4 V612.6" stroke="#1a1a1a" stroke-width="0.8"/>
<path d="M444.12 610.4 V611.6" stroke="#1a1a1a" stroke-width="0.8"/>
<path d="M448.93 610.4 V611.6" stroke="#1a1a1a" stroke-width="0.8"/>
<path d="M452.34 610.4 V611.6" stroke="#1a1a1a" stroke-width="0.8"/>
<path d="M454.98 610.4 V611.6" stroke="#1a1a1a" stroke-width="0.8"/>
<path d="M457.14 610.4 V611.6" stroke="#1a1a1a" stroke-width="0.8"/>
<path d="M458.97 610.4 V611.6" stroke="#1a1a1a" stroke-width="0.8"/>
<path d="M460.55 610.4 V611.6" stroke="#1a1a1a" stroke-width="0.8"/>
<path d="M461.95 610.4 V611.6" stroke="#1a1a1a" stroke-width="0.8"/>
<path d="M463.20 610.4 V612.6" stroke="#1a1a1a" stroke-width="0.8"/>
<path d="M471.42 610.4 V611.6" stroke="#1a1a1a" stroke-width="0.8"/>
<path d="M476.23 610.4 V611.6" stroke="#1a1a1a" stroke-width="0.8"/>
<path d="M479.64 610.4 V611.6" stroke="#1a1a1a" stroke-width="0.8"/>
<path d="M482.28 610.4 V611.6" stroke="#1a1a1a" stroke-width="0.8"/>
<path d="M484.44 610.4 V611.6" stroke="#1a1a1a" stroke-width="0.8"/>
<path d="M486.27 610.4 V611.6" stroke="#1a1a1a" stroke-width="0.8"/>
<path d="M487.85 610.4 V611.6" stroke="#1a1a1a" stroke-width="0.8"/>
<path d="M489.25 610.4 V611.6" stroke="#1a1a1a" stroke-width="0.8"/>
<path d="M490.50 610.4 V612.6" stroke="#1a1a1a" stroke-width="0.8"/>
<path d="M498.72 610.4 V611.6" stroke="#1a1a1a" stroke-width="0.8"/>
<path d="M503.53 610.4 V611.6" stroke="#1a1a1a" stroke-width="0.8"/>
<path d="M506.94 610.4 V611.6" stroke="#1a1a1a" stroke-width="0.8"/>
<path d="M509.58 610.4 V611.6" stroke="#1a1a1a" stroke-width="0.8"/>
<path d="M511.74 610.4 V611.6" stroke="#1a1a1a" stroke-width="0.8"/>
<text x="402.20" y="627.20" font-size="8.3" fill="#222">10<tspan font-size="5.9" dy="-2.9">3</tspan></text>
<text x="429.50" y="627.20" font-size="8.3" fill="#222">10<tspan font-size="5.9" dy="-2.9">4</tspan></text>
<text x="456.80" y="627.20" font-size="8.3" fill="#222">10<tspan font-size="5.9" dy="-2.9">5</tspan></text>
<text x="484.10" y="627.20" font-size="8.3" fill="#222">10<tspan font-size="5.9" dy="-2.9">6</tspan></text>
<text x="492.60" y="517.50" font-size="7.7" text-anchor="end" textLength="24.2" lengthAdjust="spacing" fill="#222">HSP70</text>
<path d="M495.8 514.8 H512.5" stroke="#2f6a60" stroke-width="1.3"/>
<text x="492.60" y="529.10" font-size="7.7" text-anchor="end" textLength="33.6" lengthAdjust="spacing" fill="#222">UPN#172</text>
<path d="M495.8 526.4 H512.5" stroke="#a01f45" stroke-width="1.3"/>
<text x="492.60" y="541.20" font-size="7.7" text-anchor="end" textLength="67.8" lengthAdjust="spacing" fill="#222">UPN#172 + HSP70</text>
<path d="M495.8 538.5 H512.5" stroke="#9fc080" stroke-width="1.3"/>
<polyline points="463.5,610.3 464.3,610.0 465.1,609.7 465.9,609.4 466.6,608.1 467.2,606.7 467.9,606.2 468.5,604.3 469.2,603.8 469.9,601.2 470.6,598.3 471.2,596.8 471.9,593.5 472.6,592.0 473.3,585.8 474.0,580.4 474.7,578.9 475.5,577.7 476.2,573.1 476.9,572.7 477.5,573.4 478.2,573.7 478.9,570.4 479.5,567.6 480.2,567.3 480.9,562.1 481.5,563.7 482.2,560.8 483.2,559.8 484.0,562.7 484.9,566.4 485.8,574.0 486.6,578.1 487.2,584.2 487.9,589.3 488.5,593.7 489.1,598.2 489.8,601.7 490.4,606.0 491.3,609.4 492.5,610.3" fill="none" stroke="#8cc06c" stroke-width="1.0" stroke-linejoin="miter"/>
<polyline points="462.0,610.3 462.8,610.0 463.6,609.7 464.4,609.4 465.1,607.1 465.9,605.8 466.6,603.5 467.3,601.4 468.0,599.9 468.7,597.8 469.3,595.6 470.0,594.6 470.7,592.5 471.3,588.4 471.9,586.0 472.5,582.8 473.1,580.7 473.5,571.0 474.5,549.3 475.3,546.2 476.0,546.4 476.8,550.3 477.5,554.3 478.2,555.8 478.9,560.2 479.5,562.2 480.2,567.5 480.9,571.8 481.5,575.2 482.2,580.1 482.8,583.0 483.4,588.4 484.0,592.6 484.6,597.0 485.4,600.0 486.2,603.8 487.0,607.0 487.8,607.9 488.5,609.4 489.2,609.8 490.0,610.3" fill="none" stroke="#2f6f68" stroke-width="1.0" stroke-linejoin="miter"/>
<polyline points="456.0,610.3 456.7,610.1 457.4,609.8 458.0,609.6 458.7,609.4 459.3,608.9 460.0,608.6 460.6,607.4 461.2,607.7 461.9,607.2 462.5,607.1 463.1,605.6 463.8,603.6 464.4,602.5 465.0,601.6 465.7,599.3 466.3,598.7 467.0,595.0 467.6,591.6 468.3,588.2 468.8,578.5 469.5,570.7 470.1,565.2 470.8,559.9 471.6,553.7 472.8,549.1 474.0,551.3 474.5,553.7 474.8,571.5 475.8,574.6 476.5,576.7 477.2,576.9 477.9,579.4 478.6,580.4 479.4,583.0 480.1,584.4 480.8,583.5 481.4,585.9 482.1,588.3 482.7,590.6 483.3,594.7 484.0,598.4 484.6,601.3 485.2,602.9 485.9,605.5 486.5,607.3 487.2,608.1 487.9,609.0 488.7,608.9 489.4,609.4 490.2,609.8 491.0,610.3" fill="none" stroke="#a01f45" stroke-width="1.0" stroke-linejoin="miter"/>
<text x="428.6" y="641.2" font-size="9" font-weight="bold" textLength="63.8" lengthAdjust="spacingAndGlyphs" fill="#2a2a2a">Intensity of <tspan font-weight="normal" font-size="9.4">&#946;</tspan>&#8211;globin</text>
<text transform="translate(250 561) rotate(-90) scale(0.72 1)" font-size="8.6" text-anchor="middle" fill="#222" style="stroke-width:0.4px">Count</text>

<rect x="0.6" y="0.6" width="518.8" height="653.8" fill="none" stroke="#000" stroke-width="1.6"/>
</svg></body></html>
